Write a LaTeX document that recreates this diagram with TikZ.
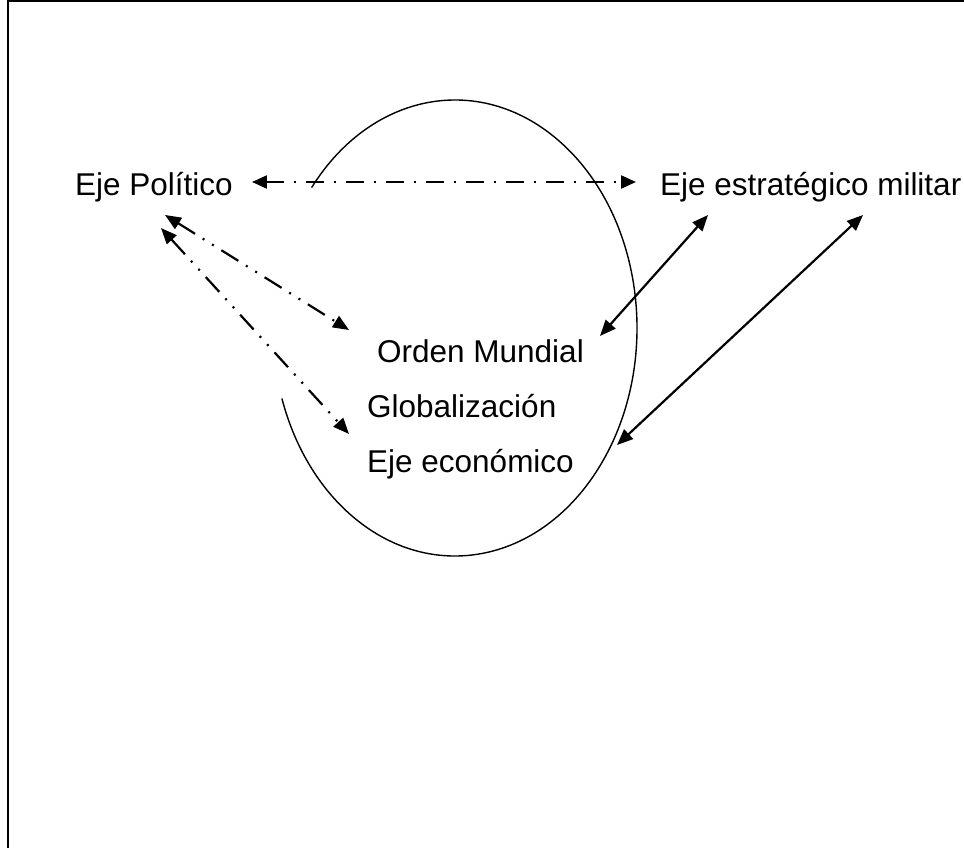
\documentclass[tikz,border=0pt]{standalone}
\usepackage{fontspec}
\setmainfont{Liberation Sans}
\usetikzlibrary{arrows.meta,calc}

\begin{document}
\begin{tikzpicture}[x=1pt, y=-1pt,
    axislabel/.style={font=\fontsize{31.5}{38}\selectfont, inner sep=0pt, anchor=base west},
    dashdotlink/.style={line width=2.2pt, dash pattern=on 18pt off 10pt on 2pt off 10pt,
        {Triangle[length=15pt, width=13pt]}-{Triangle[length=15pt, width=13pt]}},
    dashdotdotlink/.style={line width=2.2pt, dash pattern=on 20pt off 9pt on 2pt off 9pt on 2pt off 9pt,
        {Triangle[length=16pt, width=13pt]}-{Triangle[length=16pt, width=13pt]}},
    solidlink/.style={line width=2.2pt,
        {Triangle[length=16pt, width=13pt]}-{Triangle[length=16pt, width=13pt]}}]
    \useasboundingbox (0,0) rectangle (964,848);

    % Frame (cut at right and bottom)
    \draw [line width=2pt] (8,848) -- (8,1) -- (964,1);

    % Open ellipse
    \coordinate (ctr) at (455,328);
    \draw [line width=1.4pt] (ctr) ++(142:182pt and 228pt)
        arc [start angle=142, end angle=-162, x radius=182pt, y radius=228pt];

    % Labels
    \node (polit) [axislabel] at (75,196) {Eje Político};
    \node (strat) [axislabel] at (660,196) {Eje estratégico militar};
    \node (orden) [axislabel] at (377,362) {Orden Mundial};
    \node (glob)  [axislabel] at (367,417) {Globalización};
    \node (econ)  [axislabel] at (367,472) {Eje económico};

    % Links
    \draw [dashdotlink] ($(polit.base east)+(19,-14)$) -- ($(strat.base west)+(-24,-14)$);
    \draw [dashdotdotlink] ($(polit.base west)+(90,19)$) -- ($(orden.base west)+(-28,-32)$);
    \draw [dashdotdotlink] ($(polit.base west)+(86,32)$) -- ($(econ.base west)+(-18,-38)$);
    \draw [solidlink] ($(strat.base west)+(48,19)$) -- ($(orden.base east)+(16,-26)$);
    \draw [solidlink] ($(strat.base west)+(203,19)$) -- ($(econ.base east)+(43,-27)$);
\end{tikzpicture}
\end{document}
